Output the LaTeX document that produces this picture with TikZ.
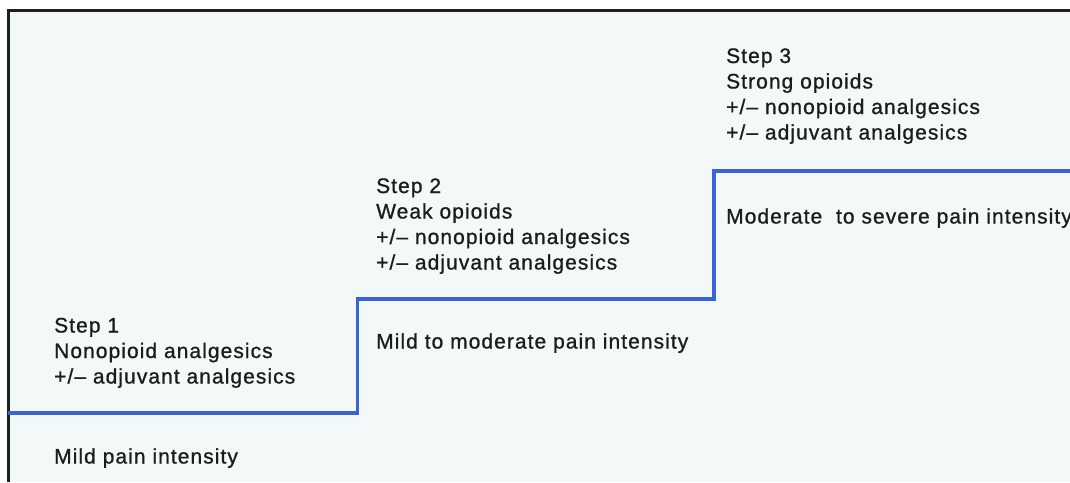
\documentclass[tikz,border=0pt]{standalone}
\usepackage{fontspec}
\setmainfont[LetterSpace=5,FakeBold=0.9]{Liberation Sans}
\definecolor{bgc}{HTML}{F3F8F9}
\definecolor{stair}{HTML}{3B63D8}
\definecolor{txt}{HTML}{1C1C1C}
\begin{document}
\begin{tikzpicture}[x=1pt,y=-1pt,
  lbl/.style={anchor=base west,inner sep=0pt,align=left,text=txt,
    font=\fontsize{21}{25.5}\selectfont},
  frame/.style={line width=3pt,draw=black!88},
  stairline/.style={line width=3.5pt,draw=stair,line join=miter}]
\useasboundingbox (0,0) rectangle (1070,482);
\fill[white] (0,0) rectangle (1070,482);
\fill[bgc] (8,10.5) rectangle (1070,482);
\coordinate (tl) at (8,10.5);
\coordinate (tr) at (1070,10.5);
\coordinate (bl) at (8,482);
\draw[frame] (tr) -- (tl) -- (bl);
\coordinate (s0) at (8,413);
\coordinate (s1) at (357.5,413);
\coordinate (s2) at (357.5,299);
\coordinate (s3) at (714,299);
\coordinate (s4) at (714,171);
\coordinate (s5) at (1071,171);
\draw[stairline] (s0) -- (s1) -- (s2) -- (s3) -- (s4) -- (s5);
\node[lbl] (step1) at (54,383.5) {Step 1\\Nonopioid analgesics\\+/– adjuvant analgesics};
\node[lbl] (mild) at (54,463.5) {Mild pain intensity};
\node[lbl] (step2) at (376,269.5) {Step 2\\Weak opioids\\+/– nonopioid analgesics\\+/– adjuvant analgesics};
\node[lbl] (mildmod) at (376,348.5) {Mild to moderate pain intensity};
\node[lbl] (step3) at (726,139.5) {Step 3\\Strong opioids\\+/– nonopioid analgesics\\+/– adjuvant analgesics};
\node[lbl] (modsev) at (726,223.5) {Moderate\ \ to severe pain intensity};
\end{tikzpicture}
\end{document}
